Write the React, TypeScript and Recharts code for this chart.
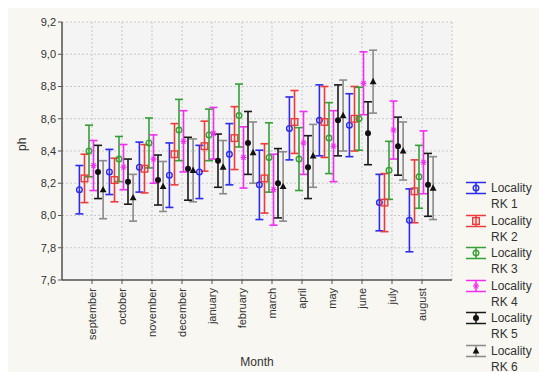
import React from 'react';
import { ScatterChart, Scatter, XAxis, YAxis, CartesianGrid, ErrorBar } from 'recharts';

const months = ['september', 'october', 'november', 'december', 'january', 'february', 'march', 'april', 'may', 'june', 'july', 'august'];
const yTicks = [7.6, 7.8, 8.0, 8.2, 8.4, 8.6, 8.8, 9.0, 9.2];

const rk1Mean = [8.16, 8.27, 8.30, 8.25, 8.27, 8.38, 8.19, 8.54, 8.59, 8.56, 8.08, 7.97];
const rk1Err = [0.15, 0.14, 0.155, 0.2, 0.165, 0.19, 0.215, 0.195, 0.22, 0.195, 0.175, 0.195];
const rk2Mean = [8.23, 8.22, 8.29, 8.38, 8.43, 8.48, 8.23, 8.58, 8.58, 8.60, 8.08, 8.15];
const rk2Err = [0.15, 0.135, 0.15, 0.19, 0.155, 0.195, 0.215, 0.195, 0.22, 0.2, 0.18, 0.195];
const rk3Mean = [8.40, 8.35, 8.45, 8.53, 8.50, 8.62, 8.36, 8.35, 8.48, 8.60, 8.28, 8.24];
const rk3Err = [0.16, 0.14, 0.155, 0.19, 0.16, 0.195, 0.215, 0.195, 0.22, 0.195, 0.18, 0.195];
const rk4Mean = [8.31, 8.30, 8.35, 8.46, 8.51, 8.36, 8.16, 8.45, 8.43, 8.82, 8.53, 8.33];
const rk4Err = [0.155, 0.14, 0.15, 0.19, 0.16, 0.19, 0.22, 0.195, 0.22, 0.195, 0.18, 0.195];
const rk5Mean = [8.27, 8.21, 8.22, 8.29, 8.34, 8.45, 8.20, 8.30, 8.59, 8.51, 8.43, 8.19];
const rk5Err = [0.165, 0.14, 0.155, 0.195, 0.165, 0.195, 0.215, 0.195, 0.22, 0.195, 0.18, 0.195];
const rk6Mean = [8.16, 8.11, 8.18, 8.28, 8.30, 8.39, 8.18, 8.37, 8.62, 8.83, 8.40, 8.17];
const rk6Err = [0.18, 0.145, 0.155, 0.195, 0.165, 0.19, 0.215, 0.195, 0.22, 0.195, 0.18, 0.195];

const FONT = '"Liberation Sans", Arial, sans-serif';

// marker shapes
const OpenCircle = (color: string) => (p: any) => (
  <circle cx={p.cx} cy={p.cy} r={2.8} fill="none" stroke={color} strokeWidth={1.4} />
);
const OpenSquare = (color: string) => (p: any) => (
  <rect x={p.cx - 3.3} y={p.cy - 3.3} width={6.6} height={6.6} fill="none" stroke={color} strokeWidth={1.4} />
);
const Star = (color: string) => (p: any) => (
  <g stroke={color} strokeWidth={1.2}>
    <line x1={p.cx - 3} y1={p.cy} x2={p.cx + 3} y2={p.cy} />
    <line x1={p.cx - 2} y1={p.cy - 2.5} x2={p.cx + 2} y2={p.cy + 2.5} />
    <line x1={p.cx + 2} y1={p.cy - 2.5} x2={p.cx - 2} y2={p.cy + 2.5} />
  </g>
);
const Dot = (color: string) => (p: any) => <circle cx={p.cx} cy={p.cy} r={3} fill={color} />;
const Tri = (color: string) => (p: any) => (
  <path d={`M${p.cx},${p.cy - 3.8}L${p.cx + 3.4},${p.cy + 2.6}L${p.cx - 3.4},${p.cy + 2.6}Z`} fill={color} />
);

const series = [
  { name: 'RK 1', mean: rk1Mean, err: rk1Err, off: -0.42, color: '#2b2bf0', mark: '#2b2bf0', shape: OpenCircle },
  { name: 'RK 2', mean: rk2Mean, err: rk2Err, off: -0.25, color: '#f03a3a', mark: '#f03a3a', shape: OpenSquare },
  { name: 'RK 3', mean: rk3Mean, err: rk3Err, off: -0.1, color: '#35a035', mark: '#35a035', shape: OpenCircle },
  { name: 'RK 4', mean: rk4Mean, err: rk4Err, off: 0.05, color: '#f02ef0', mark: '#f02ef0', shape: Star },
  { name: 'RK 5', mean: rk5Mean, err: rk5Err, off: 0.2, color: '#1a1a1a', mark: '#111111', shape: Dot },
  { name: 'RK 6', mean: rk6Mean, err: rk6Err, off: 0.37, color: '#8a8a8a', mark: '#111111', shape: Tri },
];

const MonthTick = (props: any) => {
  const { x, y, payload } = props;
  return (
    <text
      x={0}
      y={0}
      transform={`translate(${x + 4},${y + 2}) rotate(-90)`}
      textAnchor="end"
      fontSize={11}
      fontFamily={FONT}
      fill="#333"
    >
      {months[payload.value - 1]}
    </text>
  );
};

const LegendIcon = ({ s }: { s: any }) => {
  const Shape = s.shape(s.mark);
  return (
    <svg width={22} height={14} style={{ display: 'block' }}>
      <g stroke={s.color} strokeWidth={1.5}>
        <line x1={1} y1={1.5} x2={21} y2={1.5} />
        <line x1={1} y1={12.5} x2={21} y2={12.5} />
        <line x1={11} y1={1.5} x2={11} y2={12.5} />
      </g>
      <Shape cx={11} cy={7} />
    </svg>
  );
};

const App: React.FC = () => {
  return (
    <div style={{ position: 'relative', width: 539, height: 364, background: '#f8f7f1', fontFamily: FONT }}>
      <ScatterChart width={539} height={364} margin={{ top: 14, right: 95, bottom: 6, left: 0 }}>
        <CartesianGrid fill="#f4f4f4" stroke="#c8c8c8" strokeDasharray="2 2" />
        <XAxis
          type="number"
          dataKey="x"
          domain={[0, 13]}
          ticks={[1, 2, 3, 4, 5, 6, 7, 8, 9, 10, 11, 12]}
          interval={0}
          height={86}
          tick={<MonthTick />}
          tickSize={4}
          tickLine={{ stroke: '#555' }}
          axisLine={{ stroke: '#555', strokeWidth: 1.5 }}
          label={{ value: 'Month', position: 'insideBottom', offset: 0, fontSize: 12, fontFamily: FONT, fill: '#333' }}
        />
        <XAxis xAxisId="top" orientation="top" type="number" domain={[0, 13]} height={0} tick={false} tickLine={false} axisLine={{ stroke: '#555', strokeWidth: 1.5 }} />
        <YAxis
          type="number"
          dataKey="y"
          domain={[7.6, 9.2]}
          ticks={yTicks}
          interval={0}
          width={54}
          tickSize={4}
          tickLine={{ stroke: '#555' }}
          axisLine={{ stroke: '#555', strokeWidth: 1.5 }}
          tickFormatter={(v: number) => v.toFixed(1).replace('.', ',')}
          tick={{ fontSize: 11, fontFamily: FONT, fill: '#333' }}
          label={{ value: 'ph', angle: -90, position: 'insideLeft', offset: 14, fontSize: 12, fontFamily: FONT, fill: '#333' }}
        />
        <YAxis yAxisId="right" orientation="right" type="number" domain={[7.6, 9.2]} width={0} tick={false} tickLine={false} axisLine={{ stroke: '#555', strokeWidth: 1.5 }} />
        {series.map((s) => (
          <Scatter
            key={s.name}
            name={`Locality ${s.name}`}
            data={months.map((m, i) => ({ x: i + 1 + s.off, y: s.mean[i], e: s.err[i] }))}
            shape={s.shape(s.mark)}
            isAnimationActive={false}
          >
            <ErrorBar dataKey="e" direction="y" width={4} stroke={s.color} strokeWidth={1.6} />
          </Scatter>
        ))}
      </ScatterChart>
      <div style={{ position: 'absolute', left: 457, top: 172 }}>
        {series.map((s) => (
          <div key={s.name} style={{ position: 'relative', height: 32.5 }}>
            <div style={{ position: 'absolute', left: 0, top: 1 }}>
              <LegendIcon s={s} />
            </div>
            <div style={{ position: 'absolute', left: 26, top: 0, fontSize: 12, lineHeight: '16px', color: '#333', whiteSpace: 'nowrap' }}>
              Locality
              <br />
              {s.name}
            </div>
          </div>
        ))}
      </div>
    </div>
  );
};

export default App;
